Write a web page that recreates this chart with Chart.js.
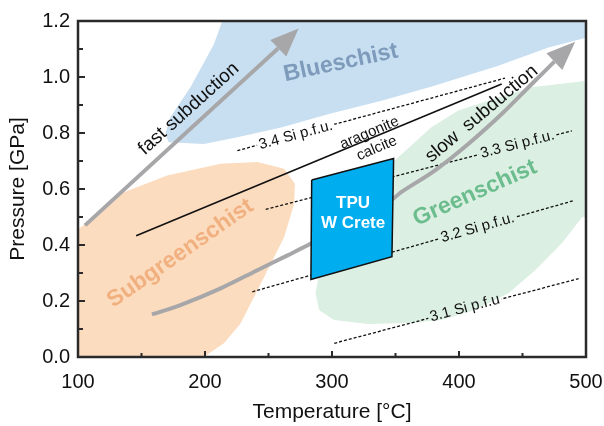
<!DOCTYPE html>
<html>
<head>
<meta charset="utf-8">
<script src="https://cdn.jsdelivr.net/npm/chart.js@4.4.1/dist/chart.umd.min.js"></script>
<style>
  html, body { margin: 0; padding: 0; background: #fff; }
  #wrap { width: 604px; height: 426px; }
</style>
</head>
<body>
<div id="wrap"><canvas id="facies"></canvas></div>
<script>
// axes
const xTicks = [100, 200, 300, 400, 500];
const xMinor = [150, 250, 350, 450];
const yTicks = [0, 0.2, 0.4, 0.6, 0.8, 1.0, 1.2];
const yMinor = [0.1, 0.3, 0.5, 0.7, 0.9, 1.1];

// facies fields (temperature °C, pressure GPa)
const blueT = [213.6, 500, 500, 470.5, 431, 378, 339, 299, 260, 225.5, 199, 171.4, 168.8, 172.7, 188.5, 207];
const blueP = [1.2, 1.2, 1.14, 1.105, 1.04, 0.965, 0.915, 0.87, 0.82, 0.785, 0.761, 0.767, 0.797, 0.856, 0.963, 1.117];
const subT = [100, 106.9, 133.2, 170.1, 212.3, 241.3, 262.3, 270.8, 270.2, 262.3, 249.2, 236, 228, 214.9, 199, 100];
const subP = [0.455, 0.48, 0.583, 0.648, 0.69, 0.696, 0.672, 0.619, 0.547, 0.428, 0.31, 0.191, 0.12, 0.049, 0, 0];
const greenT = [349, 378, 399.4, 431, 457, 499, 500, 497, 481, 460, 439, 412, 386, 360, 328, 301.6, 290, 287, 290, 320];
const greenP = [0.70, 0.82, 0.88, 0.927, 0.963, 0.986, 0.5, 0.5, 0.406, 0.31, 0.228, 0.167, 0.132, 0.121, 0.118, 0.132, 0.167, 0.228, 0.30, 0.55];

// TPU W Crete field
const tpuT = [284, 348.5, 347.2, 283.4, 284];
const tpuP = [0.632, 0.709, 0.358, 0.277, 0.632];

// reaction / isopleth lines
const aragT = [145.8, 433.6];
const aragP = [0.433, 0.975];
const si34T = [225.5, 436.2];
const si34P = [0.737, 0.996];
const si33T = [247.8, 488.9];
const si33P = [0.527, 0.808];
const si32T = [237.3, 490.8];
const si32P = [0.233, 0.559];
const si31T = [301.8, 494.2];
const si31P = [0.049, 0.280];

// subduction paths
const fastT = [105.5, 257.7];
const fastP = [0.47, 1.103];
const fastTip = [273.7, 1.173];
const slowT = [158.2, 180.6, 212.3, 241.2, 265, 283.4, 348, 354.5, 380.9, 407.3, 433.6, 457.3, 475.1];
const slowP = [0.152, 0.185, 0.245, 0.31, 0.363, 0.405, 0.565, 0.589, 0.666, 0.761, 0.868, 0.975, 1.055];
const slowTip = [491.5, 1.126];

const siLabels = [
  { text: "3.4 Si p.f.u.", t: 271.5, p: 0.792 },
  { text: "3.3 Si p.f.u.", t: 446, p: 0.759 },
  { text: "3.2 Si p.f.u.", t: 414.6, p: 0.461 },
  { text: "3.1 Si p.f.u", t: 404.6, p: 0.174 }
];

const FONT = "'Liberation Sans', Arial, Helvetica, sans-serif";
const siFont = "15px " + FONT;

const notes = [
  { text: "Blueschist", t: 307, p: 1.05, rot: -12, font: "bold 23px " + FONT, color: "#7e9bbb" },
  { text: "Subgreenschist", t: 180.6, p: 0.37, rot: -35, font: "bold 23px " + FONT, color: "#f1b07f" },
  { text: "Greenschist", t: 412.5, p: 0.585, rot: -24, font: "bold 23px " + FONT, color: "#6cbd8e" },
  { text: "fast subduction", t: 187.2, p: 0.886, rot: -42, font: "19px " + FONT, color: "#111" },
  { text: "slow  subduction", t: 417.8, p: 0.868, rot: -40, font: "19px " + FONT, color: "#111" },
  { text: "aragonite", t: 329.5, p: 0.80, rot: -23, font: "15px " + FONT, color: "#111" },
  { text: "calcite", t: 335.3, p: 0.745, rot: -23, font: "15px " + FONT, color: "#111" },
  { text: "TPU", t: 316.6, p: 0.548, rot: 0, font: "bold 17px " + FONT, color: "#fff" },
  { text: "W Crete", t: 316.6, p: 0.477, rot: 0, font: "bold 17px " + FONT, color: "#fff" }
];

function pts(T, P) {
  return T.map((t, i) => ({ x: t, y: P[i] }));
}

function lineAngle(chart, index) {
  const d = chart.getDatasetMeta(index).data;
  const a = d[0], b = d[d.length - 1];
  return Math.atan2(b.y - a.y, b.x - a.x);
}

// cut the dashed isopleths where their label sits, draw arrow heads, labels and frame
const gapPlugin = {
  id: "gaps",
  beforeDatasetDraw(chart, args) {
    const ds = chart.data.datasets[args.index];
    if (ds.gapLabel === undefined) return;
    const lab = siLabels[ds.gapLabel];
    const ctx = chart.ctx;
    const x = chart.scales.x.getPixelForValue(lab.t);
    const y = chart.scales.y.getPixelForValue(lab.p);
    const a = lineAngle(chart, args.index);
    ctx.save();
    ctx.font = siFont;
    const hw = ctx.measureText(lab.text).width / 2 + 2, hh = 8;
    const c = Math.cos(a), s = Math.sin(a);
    ctx.beginPath();
    ctx.rect(0, 0, chart.width, chart.height);
    [[-hw, -hh], [hw, -hh], [hw, hh], [-hw, hh]].forEach(([u, v], i) => {
      const px = x + u * c - v * s, py = y + u * s + v * c;
      if (i) ctx.lineTo(px, py); else ctx.moveTo(px, py);
    });
    ctx.closePath();
    ctx.clip("evenodd");
  },
  afterDatasetDraw(chart, args) {
    const ds = chart.data.datasets[args.index];
    if (ds.gapLabel !== undefined) chart.ctx.restore();
    if (ds.tip) {
      const ctx = chart.ctx;
      const d = chart.getDatasetMeta(args.index).data;
      const base = d[d.length - 1];
      const tx = chart.scales.x.getPixelForValue(ds.tip[0]);
      const ty = chart.scales.y.getPixelForValue(ds.tip[1]);
      const dx = tx - base.x, dy = ty - base.y, len = Math.hypot(dx, dy);
      const nx = -dy / len * 11.5, ny = dx / len * 11.5;
      ctx.save();
      ctx.fillStyle = ds.borderColor;
      ctx.beginPath();
      ctx.moveTo(tx, ty);
      ctx.lineTo(base.x + nx, base.y + ny);
      ctx.lineTo(base.x - nx, base.y - ny);
      ctx.closePath();
      ctx.fill();
      ctx.restore();
    }
  },
  afterDatasetsDraw(chart) {
    const ctx = chart.ctx, xs = chart.scales.x, ys = chart.scales.y;
    ctx.save();
    ctx.textAlign = "center";
    ctx.textBaseline = "middle";
    const draw = (text, t, p, rot, font, color) => {
      ctx.save();
      ctx.translate(xs.getPixelForValue(t), ys.getPixelForValue(p));
      ctx.rotate(rot);
      ctx.font = font;
      ctx.fillStyle = color;
      ctx.fillText(text, 0, 0);
      ctx.restore();
    };
    notes.forEach(n => draw(n.text, n.t, n.p, n.rot * Math.PI / 180, n.font, n.color));
    chart.data.datasets.forEach((ds, i) => {
      if (ds.gapLabel === undefined) return;
      const lab = siLabels[ds.gapLabel];
      draw(lab.text, lab.t, lab.p, lineAngle(chart, i), siFont, "#111");
    });
    ctx.restore();
  },
  afterDraw(chart) {
    const ctx = chart.ctx, a = chart.chartArea, xs = chart.scales.x, ys = chart.scales.y;
    ctx.save();
    ctx.strokeStyle = "#2a2a2a";
    ctx.lineWidth = 2;
    ctx.beginPath();
    xTicks.forEach(v => { const px = xs.getPixelForValue(v); ctx.moveTo(px, a.bottom); ctx.lineTo(px, a.bottom - 6); });
    xMinor.forEach(v => { const px = xs.getPixelForValue(v); ctx.moveTo(px, a.bottom); ctx.lineTo(px, a.bottom - 4); });
    yTicks.forEach(v => { const py = ys.getPixelForValue(v); ctx.moveTo(a.left, py); ctx.lineTo(a.left + 7, py); });
    yMinor.forEach(v => { const py = ys.getPixelForValue(v); ctx.moveTo(a.left, py); ctx.lineTo(a.left + 5, py); });
    ctx.stroke();
    ctx.lineWidth = 2.5;
    ctx.strokeRect(a.left, a.top, a.right - a.left, a.bottom - a.top);
    ctx.restore();
  }
};

const field = (T, P, color, order) => ({
  data: pts(T, P), showLine: true, fill: "shape", backgroundColor: color,
  borderColor: "rgba(0,0,0,0)", borderWidth: 0, pointRadius: 0, order: order
});
const dashed = (T, P, gap) => ({
  data: pts(T, P), showLine: true, borderColor: "#111", borderWidth: 1.3,
  borderDash: [3, 2], pointRadius: 0, order: 6, gapLabel: gap
});

new Chart(document.getElementById("facies"), {
  type: "scatter",
  data: {
    datasets: [
      field(blueT, blueP, "#c8dff2", 10),
      field(subT, subP, "#fcdcbf", 9),
      field(greenT, greenP, "#dcefe3", 8),
      dashed(si34T, si34P, 0),
      dashed(si33T, si33P, 1),
      dashed(si32T, si32P, 2),
      dashed(si31T, si31P, 3),
      { data: pts(aragT, aragP), showLine: true, borderColor: "#111", borderWidth: 1.6, pointRadius: 0, order: 5 },
      { data: pts(fastT, fastP), showLine: true, borderColor: "#a7a7a9", borderWidth: 4, pointRadius: 0, order: 4, tip: fastTip },
      { data: pts(slowT, slowP), showLine: true, borderColor: "#a7a7a9", borderWidth: 4, pointRadius: 0, order: 4, tension: 0.3, tip: slowTip },
      { data: pts(tpuT, tpuP), showLine: true, fill: "shape", backgroundColor: "#00adef", borderColor: "#111", borderWidth: 1.5, pointRadius: 0, order: 1 }
    ]
  },
  options: {
    responsive: true,
    maintainAspectRatio: false,
    animation: false,
    layout: { padding: { top: 21, right: 18, left: 0, bottom: 0 } },
    plugins: { legend: { display: false }, tooltip: { enabled: false } },
    scales: {
      x: {
        type: "linear", min: 100, max: 500,
        ticks: { stepSize: 100, font: { size: 20, family: FONT }, color: "#111", padding: 13 },
        grid: { display: false, drawTicks: false },
        border: { display: false },
        title: { display: true, text: "Temperature [°C]", font: { size: 21, family: FONT }, color: "#111", padding: { top: 0, bottom: 1 } },
        afterFit(s) { s.height = 69; s.paddingLeft = 0; s.paddingRight = 0; }
      },
      y: {
        type: "linear", min: 0, max: 1.2,
        ticks: { stepSize: 0.2, font: { size: 20, family: FONT }, color: "#111", padding: 8, callback: v => v.toFixed(1) },
        grid: { display: false, drawTicks: false },
        border: { display: false },
        title: { display: true, text: "Pressure [GPa]", font: { size: 21, family: FONT }, color: "#111", padding: 6 },
        afterFit(s) { s.width = 78; }
      }
    }
  },
  plugins: [gapPlugin]
});
</script>
</body>
</html>
